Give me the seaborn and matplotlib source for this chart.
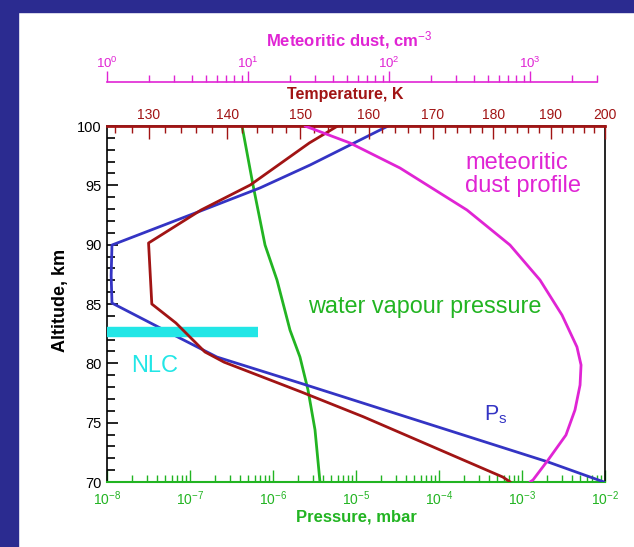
import numpy as np
import pandas as pd
import matplotlib
matplotlib.use("Agg")
import matplotlib.pyplot as plt
import matplotlib.ticker as mticker
from matplotlib.patches import Rectangle
import seaborn as sns

# ---------------- data ----------------
# Temperature profile (K) on top log axis
temp_alt = [100, 98.57, 95.03, 92.92, 90.14, 85.0, 83.4, 80.96, 80.1, 77.6, 75.5, 70.42, 70]
temp_K = [155.4, 151.3, 143.1, 136.6, 130.0, 130.4, 133.4, 137.1, 139.6, 150.1, 159.2, 181.6, 182.9]

# Saturation vapour pressure Ps (mbar), log10 values
ps_alt = [100, 96.71, 94.78, 92.92, 89.97, 87.4, 85.08, 82.64, 80.53, 78.34, 71.69, 70]
ps_log = [-4.614, -5.554, -6.157, -6.843, -7.94, -7.95, -7.94, -7.265, -6.675, -5.675,
          -2.687, -2.012]

# Water vapour pressure (mbar), log10 values
wv_alt = [100, 95.03, 89.97, 87.02, 82.8, 80.53, 77.75, 74.4, 70]
wv_log = [-6.373, -6.241, -6.096, -5.952, -5.795, -5.675, -5.578, -5.494, -5.434]

# Meteoritic dust (cm^-3), log10 values
dust_alt = [100, 98.57, 96.46, 92.92, 89.97, 87.02, 84.07, 81.38, 79.86, 78.17, 76.07, 73.96,
            71.85, 70.17, 70]
dust_log = [1.404, 1.723, 2.078, 2.553, 2.858, 3.071, 3.227, 3.333, 3.362, 3.355, 3.319, 3.255,
            3.128, 3.021, 3.0]

# NLC layer
nlc_alt = 82.6
nlc_p = [1e-8, 10**-6.18]

alt_ticks = [70, 75, 80, 85, 90, 95, 100]
temp_ticks = [130, 140, 150, 160, 170, 180, 190, 200]
p_ticks = [1e-8, 1e-7, 1e-6, 1e-5, 1e-4, 1e-3, 1e-2]
dust_ticks = [1, 10, 100, 1000]

# ---------------- style ----------------
sns.set_theme(style="white")
plt.rcParams['font.family'] = ['Liberation Sans', 'DejaVu Sans']
plt.rcParams['mathtext.fontset'] = 'custom'
plt.rcParams['mathtext.rm'] = 'Liberation Sans'
plt.rcParams['mathtext.it'] = 'Liberation Sans:italic'
plt.rcParams['mathtext.bf'] = 'Liberation Sans:bold'

RED = '#a11414'
BLUE = '#3434c4'
GREEN = '#22b422'
MAG = '#e024d4'
CYAN = '#22e6e6'
NAVY = '#2b2b90'

W, H = 634, 547
fig = plt.figure(figsize=(W / 100, H / 100), dpi=100)
fig.patch.set_facecolor('white')
fig.patches.append(Rectangle((0, 0), 18 / W, 1, transform=fig.transFigure, color=NAVY, zorder=0))
fig.patches.append(Rectangle((0, 1 - 12 / H), 1, 12 / H, transform=fig.transFigure, color=NAVY, zorder=0))

L, R, T, B = 107, 605, 126, 482
ax = fig.add_axes([L / W, 1 - B / H, (R - L) / W, (B - T) / H])
ax.set_facecolor('none')

# pressure axis (bottom)
ax.set_xscale('log')
ax.set_xlim(1e-8, 1e-2)
ax.set_ylim(70, 100)

df_wv = pd.DataFrame({'p': 10 ** np.array(wv_log), 'alt': wv_alt})
df_ps = pd.DataFrame({'p': 10 ** np.array(ps_log), 'alt': ps_alt})
sns.lineplot(data=df_wv, x='p', y='alt', sort=False, estimator=None, color=GREEN, lw=2, ax=ax)
sns.lineplot(data=df_ps, x='p', y='alt', sort=False, estimator=None, color=BLUE, lw=2, ax=ax, zorder=4)
ax.plot(nlc_p, [nlc_alt, nlc_alt], color=CYAN, lw=7.5, solid_capstyle='butt', zorder=5)

ax.set_xticks(p_ticks)
ax.xaxis.set_minor_locator(mticker.LogLocator(base=10, subs=np.arange(2, 10)))
ax.xaxis.set_minor_formatter(mticker.NullFormatter())
ax.tick_params(axis='x', which='major', direction='in', length=9, width=1, color=GREEN,
               labelcolor=GREEN, labelsize=10, pad=5, bottom=True)
ax.tick_params(axis='x', which='minor', direction='in', length=5, width=1, color=GREEN, bottom=True)
ax.set_yticks(alt_ticks)
ax.yaxis.set_minor_locator(mticker.MultipleLocator(1))
ax.tick_params(axis='y', which='major', direction='in', length=8, width=1.2, color='black',
               labelcolor='black', labelsize=10.5, pad=4, left=True)
ax.tick_params(axis='y', which='minor', direction='in', length=6, width=1.2, color='black', left=True)
ax.set_xlabel('')
ax.set_ylabel('')
for s in ['left', 'right']:
    ax.spines[s].set_color('black')
    ax.spines[s].set_linewidth(1.2)
ax.spines['bottom'].set_color(GREEN)
ax.spines['bottom'].set_linewidth(1.5)

# temperature axis (top spine)
axT = ax.twiny()
axT.set_xscale('log')
axT.set_xlim(125, 200)
df_t = pd.DataFrame({'T': temp_K, 'alt': temp_alt})
sns.lineplot(data=df_t, x='T', y='alt', sort=False, estimator=None, color=RED, lw=2, ax=axT, zorder=3)
axT.set_xticks(temp_ticks)
axT.xaxis.set_major_formatter(mticker.FixedFormatter([str(t) for t in temp_ticks]))
axT.set_xticks([t for t in range(126, 200, 2) if t % 10 != 0], minor=True)
axT.xaxis.set_minor_formatter(mticker.NullFormatter())
axT.tick_params(axis='x', which='major', direction='in', length=9, width=1, color=RED,
                labelcolor=RED, labelsize=10, pad=3)
axT.tick_params(axis='x', which='minor', direction='in', length=5, width=1, color=RED)
axT.set_xlabel('')
axT.set_ylabel('')
axT.spines['top'].set_color(RED)
axT.spines['top'].set_linewidth(2)
for s in ['left', 'right', 'bottom']:
    axT.spines[s].set_visible(False)

# dust axis (offset above)
axD = ax.twiny()
axD.set_xscale('log')
axD.set_xlim(1, 10 ** ((R - L) / 141.0))
df_d = pd.DataFrame({'n': 10 ** np.array(dust_log), 'alt': dust_alt})
sns.lineplot(data=df_d, x='n', y='alt', sort=False, estimator=None, color=MAG, lw=2, ax=axD, zorder=2)
axD.spines['top'].set_position(('outward', 44 * 0.72))
axD.spines['top'].set_bounds(1, 3000)
axD.spines['top'].set_color(MAG)
axD.spines['top'].set_linewidth(1.2)
for s in ['left', 'right', 'bottom']:
    axD.spines[s].set_visible(False)
axD.set_xticks(dust_ticks)
axD.xaxis.set_minor_locator(mticker.LogLocator(base=10, subs=np.arange(2, 10)))
axD.xaxis.set_minor_formatter(mticker.NullFormatter())
axD.tick_params(axis='x', which='major', direction='out', length=8, width=1, color=MAG,
                labelcolor=MAG, labelsize=9.5, pad=0)
axD.tick_params(axis='x', which='minor', direction='out', length=5, width=1, color=MAG)
axD.set_xlabel('')
axD.set_ylabel('')

# ---------------- texts ----------------
def ftext(x, y, s, **kw):
    fig.text(x / W, 1 - y / H, s, **kw)

ftext(349, 40, 'Meteoritic dust, cm$^{-3}$', color=MAG, fontsize=12, fontweight='bold',
      ha='center', va='center')
ftext(345, 95, 'Temperature, K', color=RED, fontsize=11.5, fontweight='bold', ha='center', va='center')
ftext(356, 517, 'Pressure, mbar', color=GREEN, fontsize=12, fontweight='bold', ha='center', va='center')
ftext(61, 300, 'Altitude, km', color='black', fontsize=13, fontweight='bold', ha='center',
      va='center', rotation=90)

ftext(465, 169, 'meteoritic', color=MAG, fontsize=17, ha='left', va='baseline')
ftext(465, 192, 'dust profile', color=MAG, fontsize=17, ha='left', va='baseline')
ftext(308, 313, 'water vapour pressure', color=GREEN, fontsize=16.8, ha='left', va='baseline')
ftext(131, 372, 'NLC', color=CYAN, fontsize=17, ha='left', va='baseline')
ftext(484, 420, 'P$_{\\rm s}$', color=BLUE, fontsize=15.5, ha='left', va='baseline')

fig.savefig('out.png', dpi=100, facecolor='white')
